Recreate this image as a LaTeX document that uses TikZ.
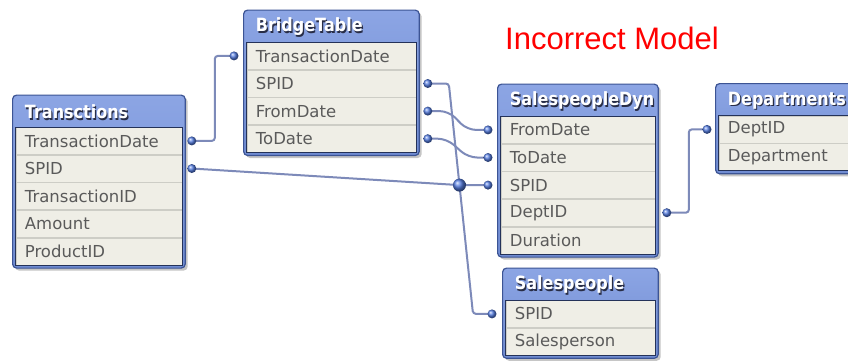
\documentclass[tikz,border=0pt]{standalone}
\usepackage{fontspec}
\usepackage{tikz}
\usetikzlibrary{matrix,calc,shadows}
\newfontfamily\tblfont{DejaVu Sans}
\newfontfamily\capfont{Liberation Sans}
\newcommand\fieldfont{\tblfont\fontsize{16.5}{18}\selectfont}
\newcommand\hdrfont{\tblfont\bfseries\fontsize{16}{18}\selectfont}
% white table caption with a dark drop behind it
\newcommand\hdr[1]{\scalebox{1}[1.14]{\rlap{\raisebox{-1.2pt}{\hspace{1.2pt}\color{hdrshade}#1}}#1}}

\definecolor{hdrtop}{RGB}{140,165,228}
\definecolor{hdrblue}{RGB}{112,140,210}
\definecolor{frameblue}{RGB}{60,84,148}
\definecolor{hdrshade}{RGB}{40,45,70}
\definecolor{fieldbg}{RGB}{239,238,230}
\definecolor{fieldtxt}{RGB}{90,90,90}
\definecolor{sepgray}{RGB}{205,205,198}
\definecolor{linkcol}{RGB}{125,138,185}
\definecolor{dotblue}{RGB}{85,125,225}
\definecolor{titlered}{RGB}{255,0,0}

\tikzset{
  tbl/.style={matrix of nodes, inner sep=3pt, row sep=0pt,
    top color=hdrtop, bottom color=hdrblue, draw=frameblue, line width=1.2pt,
    rounded corners=4pt,
    drop shadow={shadow xshift=2.5pt, shadow yshift=-2.5pt, opacity=0.45},
    nodes={sharp corners, inner xsep=9pt, inner ysep=0pt, minimum height=27pt,
      align=left, font=\fieldfont, text=fieldtxt, fill=fieldbg,
      draw=sepgray, line width=0.6pt},
    row 1/.style={nodes={fill=none, draw=none, minimum height=29pt,
      inner xsep=8pt, font=\hdrfont, text=white}}},
  sunk/.style={draw=frameblue!60!black, line width=1pt},
  link/.style={draw=linkcol, line width=2pt, rounded corners=3pt},
  curvelink/.style={link, rounded corners=9pt},
  dot/.style={circle, inner sep=0pt, minimum size=9pt, shading=ball, ball color=dotblue},
  hub/.style={dot, minimum size=13pt}
}

\begin{document}
\begin{tikzpicture}[x=1pt, y=-1pt]
  \clip (0,0) rectangle (848,360);
  \fill[white] (0,0) rectangle (848,360);

  \matrix (trans) [tbl, nodes={text width=148pt}, matrix anchor=north west] at (12,94.5)
  {
\hdr{Transctions} \\
TransactionDate \\
SPID \\
TransactionID \\
Amount \\
ProductID \\ };
  \matrix (bridge) [tbl, nodes={text width=151pt}, matrix anchor=north west] at (243,9.5)
  {
\hdr{BridgeTable} \\
TransactionDate \\
SPID \\
FromDate \\
ToDate \\ };
  \matrix (dyn) [tbl, nodes={text width=136pt}, matrix anchor=north west] at (497,83.5)
  {
\hdr{SalespeopleDyn} \\
FromDate \\
ToDate \\
SPID \\
DeptID \\
Duration \\ };
  \matrix (dept) [tbl, nodes={text width=128pt}, matrix anchor=north west] at (715,83)
  {
\hdr{Departments} \\
DeptID \\
Department \\ };
  \matrix (people) [tbl, nodes={text width=131pt}, matrix anchor=north west] at (502,267.5)
  {
\hdr{Salespeople} \\
SPID \\
Salesperson \\ };

  % sunken edge round the field rows
  \draw[sunk] (trans-2-1.north west) rectangle (trans-6-1.south east);
  \draw[sunk] (bridge-2-1.north west) rectangle (bridge-5-1.south east);
  \draw[sunk] (dyn-2-1.north west) rectangle (dyn-6-1.south east);
  \draw[sunk] (dept-2-1.north west) rectangle (dept-3-1.south east);
  \draw[sunk] (people-2-1.north west) rectangle (people-3-1.south east);

  % key ends
  \coordinate (tTD) at ($(trans.east |- trans-2-1)+(6,0)$);
  \coordinate (tSP) at ($(trans.east |- trans-3-1)+(6,0)$);
  \coordinate (bTD) at ($(bridge.west |- bridge-2-1)+(-9,0)$);
  \coordinate (bSP) at ($(bridge.east |- bridge-3-1)+(8,0)$);
  \coordinate (bFD) at ($(bridge.east |- bridge-4-1)+(8,0)$);
  \coordinate (bTo) at ($(bridge.east |- bridge-5-1)+(8,0)$);
  \coordinate (dFD) at ($(dyn.west |- dyn-2-1)+(-9,0)$);
  \coordinate (dTo) at ($(dyn.west |- dyn-3-1)+(-9,0)$);
  \coordinate (dSP) at ($(dyn.west |- dyn-4-1)+(-9,0)$);
  \coordinate (dDe) at ($(dyn.east |- dyn-5-1)+(8,0)$);
  \coordinate (eDe) at ($(dept.west |- dept-2-1)+(-8,0)$);
  \coordinate (pSP) at ($(people.west |- people-2-1)+(-10,0)$);
  \coordinate (bk) at ($(bSP)+(21,0)$);
  \coordinate (pk) at ($(pSP)+(-19,0)$);
  \coordinate (jk) at ($(dSP)+(-60,0)$);
  \coordinate (j) at (intersection of bk--pk and dSP--jk);

  \draw[link] (tTD) -- ++(23,0) |- (bTD);
  \draw[link] (tSP) -- (j) -- (dSP);
  \draw[link] (bSP) -- (bk) -- (pk) -- (pSP);
  \draw[curvelink] (bFD) -- ++(21,0) -- ($(dFD)+(-21,0)$) -- (dFD);
  \draw[curvelink] (bTo) -- ++(19,0) -- ($(dTo)+(-20,0)$) -- (dTo);
  \draw[link] (dDe) -- ++(22,0) |- (eDe);

  \foreach \k in {tTD,tSP,bTD,bSP,bFD,bTo,dFD,dTo,dSP,dDe,eDe,pSP}
    \node[dot] at (\k) {};
  \node[hub] (hub) at (j) {};

  \node[font=\capfont\fontsize{31}{34}\selectfont, text=titlered] (cap) at (612,38) {Incorrect Model};
\end{tikzpicture}
\end{document}
